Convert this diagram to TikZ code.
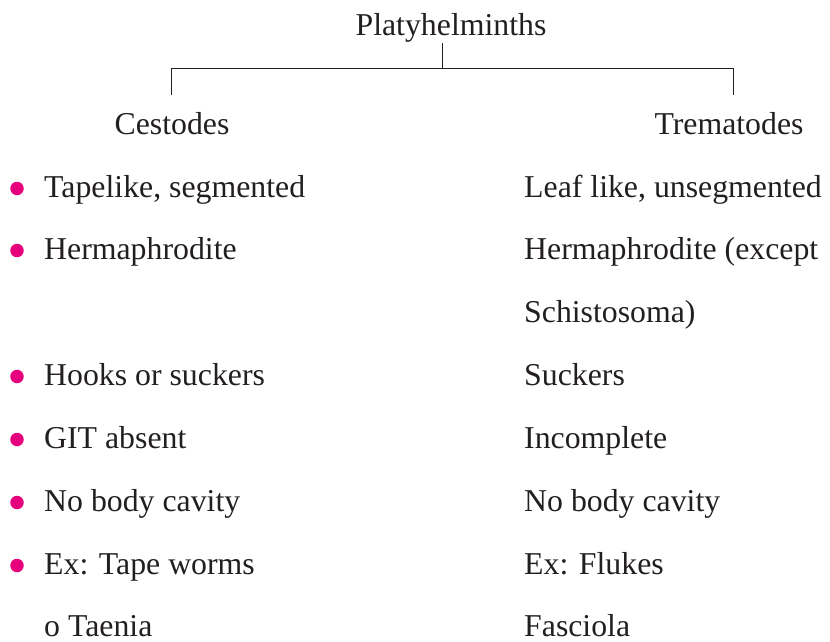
\documentclass[tikz,border=0pt]{standalone}
\usepackage{fontspec}
\setmainfont{Liberation Serif}
\definecolor{bulletpink}{RGB}{230,0,126}
\definecolor{txt}{RGB}{35,31,32}
\begin{document}
\begin{tikzpicture}[x=1pt,y=-1pt,
  lbl/.style={inner sep=0pt,anchor=base west,text=txt,font=\fontsize{31.8}{38}\selectfont},
  head/.style={inner sep=0pt,anchor=base,text=txt,font=\fontsize{31.8}{38}\selectfont},
  dot/.style={circle,fill=bulletpink,inner sep=0pt,minimum size=13.5pt},
  conn/.style={draw=txt,line width=1pt}]
\useasboundingbox (0,0) rectangle (830,642);
\node[head] (root) at (451,36) {Platyhelminths};
\node[head] (ces) at (172,134) {Cestodes};
\node[head] (tre) at (729,134) {Trematodes};
\coordinate (stemtop) at (442,43);
\coordinate (stembot) at (442,69);
\coordinate (lt) at (171,69);
\coordinate (rt) at (733,69);
\coordinate (lb) at (171,95);
\coordinate (rb) at (733,95);
\draw[conn] (stemtop) -- (stembot);
\draw[conn] (lb) -- (lt) -- (rt) -- (rb);
% left column
\foreach \y/\t/\n in {197/{Tapelike, segmented}/a,259/Hermaphrodite/b,385/Hooks or suckers/c,448/GIT absent/d,511/No body cavity/e,574/Ex: Tape worms/f}{
  \node[dot] (dot\n) at (17,\y-8.5) {};
  \node[lbl] (l\n) at (44,\y) {\t};
}
\node[lbl] (lg) at (44,636) {o Taenia};
% right column
\node[lbl] (r1) at (524,197) {Leaf like, unsegmented};
\node[lbl] (r2) at (524,259) {Hermaphrodite (except};
\node[lbl] (r3) at (524,322) {Schistosoma)};
\node[lbl] (r4) at (524,385) {Suckers};
\node[lbl] (r5) at (524,448) {Incomplete};
\node[lbl] (r6) at (524,511) {No body cavity};
\node[lbl] (r7) at (524,574) {Ex: Flukes};
\node[lbl] (r8) at (524,636) {Fasciola};
\end{tikzpicture}
\end{document}
